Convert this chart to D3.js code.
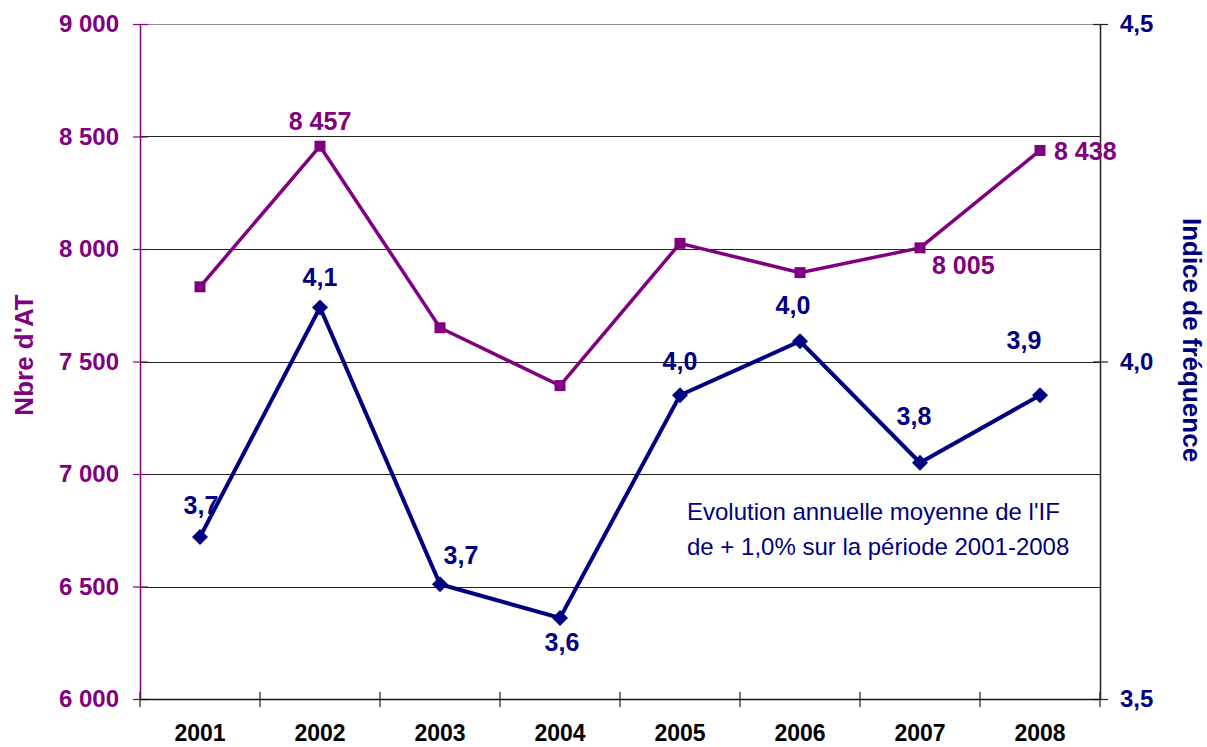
<!DOCTYPE html>
<html>
<head>
<meta charset="utf-8">
<script src="https://cdn.jsdelivr.net/npm/d3@7"></script>
<style>
  html, body { margin: 0; padding: 0; background: #fff; }
  svg { display: block; font-family: "Liberation Sans", Arial, sans-serif; }
</style>
</head>
<body>
<svg id="chart" width="1207" height="747"></svg>
<script>
// ---- data ----
const years = ["2001", "2002", "2003", "2004", "2005", "2006", "2007", "2008"];
const nbreAT = [7832, 8457, 7650, 7393, 8025, 7895, 8005, 8438];
const indiceFreq = [3.74, 4.08, 3.67, 3.62, 3.95, 4.03, 3.85, 3.95];
const nbreLabels = [null, "8 457", null, null, null, null, "8 005", "8 438"];
const indiceLabels = ["3,7", "4,1", "3,7", "3,6", "4,0", "4,0", "3,8", "3,9"];
const leftTicks = [6000, 6500, 7000, 7500, 8000, 8500, 9000];
const leftTickLabels = ["6 000", "6 500", "7 000", "7 500", "8 000", "8 500", "9 000"];
const rightTicks = [3.5, 4.0, 4.5];
const rightTickLabels = ["3,5", "4,0", "4,5"];
const leftTitle = "Nbre d'AT";
const rightTitle = "Indice de fréquence";
const noteLines = ["Evolution annuelle moyenne de l'IF", "de + 1,0% sur la période 2001-2008"];

// ---- label placement (style, not data) ----
const nbreLabelPos = [null, {dx: 0, dy: -16, a: "middle"}, null, null, null, null,
  {dx: 12, dy: 26, a: "start"}, {dx: 14, dy: 10, a: "start"}];
const indiceLabelPos = [
  {dx: 1, dy: -23}, {dx: 0, dy: -22}, {dx: 21, dy: -20}, {dx: 2, dy: 33},
  {dx: 0, dy: -25}, {dx: -7, dy: -27}, {dx: -6, dy: -38}, {dx: -16, dy: -46}];

const PURPLE = "#800080", NAVY = "#000080";
const FONT = "Liberation Sans, Arial, sans-serif";
const svg = d3.select("#chart");
const L = 140, R = 1100, T = 24, B = 699;

const x = d3.scaleBand().domain(years).range([L, R]);
const yL = d3.scaleLinear().domain([6000, 9000]).range([B, T]);
const yR = d3.scaleLinear().domain([3.5, 4.5]).range([B, T]);
const cx = d => x(d) + x.bandwidth() / 2;

// gridlines
svg.append("g").selectAll("line").data(leftTicks.filter(v => v > 6000)).join("line")
  .attr("x1", L).attr("x2", R)
  .attr("y1", d => Math.round(yL(d)) + 0.5).attr("y2", d => Math.round(yL(d)) + 0.5)
  .attr("stroke", d => d === 9000 ? "#8c8c8c" : "#222").attr("stroke-width", 1.2);

// left axis
const leftAxis = d3.axisLeft(yL).tickValues(leftTicks)
  .tickFormat((d, i) => leftTickLabels[i]).tickSizeInner(7).tickSizeOuter(0).tickPadding(14);
const gL = svg.append("g").attr("transform", `translate(${L},0)`).call(leftAxis);
gL.select(".domain").attr("stroke", PURPLE).attr("stroke-width", 1.5);
gL.selectAll(".tick line").attr("stroke", PURPLE).attr("x2", 8).attr("x1", -7).attr("stroke-width", 1.2);
gL.selectAll(".tick text").attr("fill", PURPLE).attr("font-size", 24).attr("font-weight", "bold")
  .attr("font-family", FONT);

// right axis
const rightAxis = d3.axisRight(yR).tickValues(rightTicks)
  .tickFormat((d, i) => rightTickLabels[i]).tickSizeInner(8).tickSizeOuter(0).tickPadding(12);
const gR = svg.append("g").attr("transform", `translate(${R},0)`).call(rightAxis);
gR.select(".domain").attr("stroke", "#222").attr("stroke-width", 1.5);
gR.selectAll(".tick line").attr("stroke", "#222").attr("x1", -7).attr("x2", 8).attr("stroke-width", 1.2);
gR.selectAll(".tick text").attr("fill", NAVY).attr("font-size", 24).attr("font-weight", "bold")
  .attr("font-family", FONT);

// x axis
const gX = svg.append("g").attr("transform", `translate(0,${B})`)
  .call(d3.axisBottom(x).tickSize(0).tickPadding(0));
gX.select(".domain").remove();
gX.append("line").attr("x1", L).attr("x2", R).attr("y1", 0.5).attr("y2", 0.5)
  .attr("stroke", "#111").attr("stroke-width", 1.5);
const bounds = years.map(d => x(d)).concat([R]);
gX.selectAll(".xtick").data(bounds).join("line").attr("class", "xtick")
  .attr("x1", d => d).attr("x2", d => d).attr("y1", -7).attr("y2", 8)
  .attr("stroke", "#222").attr("stroke-width", 1.2);
gX.selectAll(".tick text").attr("fill", "#000").attr("font-size", 23).attr("font-weight", "bold")
  .attr("dy", 0).attr("y", 42).attr("font-family", FONT);

// axis titles
svg.append("text").attr("transform", `translate(33,355) rotate(-90)`)
  .attr("text-anchor", "middle").attr("fill", PURPLE).attr("font-size", 26)
  .attr("font-weight", "bold").text(leftTitle);
svg.append("text").attr("transform", `translate(1183,340) rotate(90)`)
  .attr("text-anchor", "middle").attr("fill", NAVY).attr("font-size", 26)
  .attr("font-weight", "bold").text(rightTitle);

// lines
const purpleLine = d3.line().x((d, i) => cx(years[i])).y(d => yL(d));
const navyLine = d3.line().x((d, i) => cx(years[i])).y(d => yR(d));
svg.append("path").attr("d", purpleLine(nbreAT)).attr("fill", "none")
  .attr("stroke", PURPLE).attr("stroke-width", 3.5).attr("stroke-linejoin", "miter");
svg.append("path").attr("d", navyLine(indiceFreq)).attr("fill", "none")
  .attr("stroke", NAVY).attr("stroke-width", 4).attr("stroke-linejoin", "miter");

// markers
svg.append("g").selectAll("rect").data(nbreAT).join("rect")
  .attr("x", (d, i) => cx(years[i]) - 5.5).attr("y", d => yL(d) - 5.5)
  .attr("width", 11).attr("height", 11).attr("fill", PURPLE);
svg.append("g").selectAll("path").data(indiceFreq).join("path")
  .attr("d", "M0,-8L8,0L0,8L-8,0Z")
  .attr("transform", (d, i) => `translate(${cx(years[i])},${yR(d)})`)
  .attr("fill", NAVY);

// data labels
const purpleLabelData = nbreAT.map((v, i) => ({v, i, text: nbreLabels[i], pos: nbreLabelPos[i]}))
  .filter(o => o.text !== null);
svg.append("g").selectAll("text").data(purpleLabelData).join("text")
  .attr("x", o => cx(years[o.i]) + o.pos.dx)
  .attr("y", o => yL(o.v) + o.pos.dy)
  .attr("text-anchor", o => o.pos.a)
  .attr("fill", PURPLE).attr("font-size", 25).attr("font-weight", "bold")
  .text(o => o.text);
const navyLabelData = indiceFreq.map((v, i) => ({v, i, text: indiceLabels[i], pos: indiceLabelPos[i]}));
svg.append("g").selectAll("text").data(navyLabelData).join("text")
  .attr("x", o => cx(years[o.i]) + o.pos.dx)
  .attr("y", o => yR(o.v) + o.pos.dy)
  .attr("text-anchor", "middle")
  .attr("fill", NAVY).attr("font-size", 25).attr("font-weight", "bold")
  .text(o => o.text);

// annotation
svg.append("g").selectAll("text").data(noteLines).join("text")
  .attr("x", 687).attr("y", (d, i) => 520 + i * 35)
  .attr("fill", NAVY).attr("font-size", 24).text(d => d);
</script>
</body>
</html>
